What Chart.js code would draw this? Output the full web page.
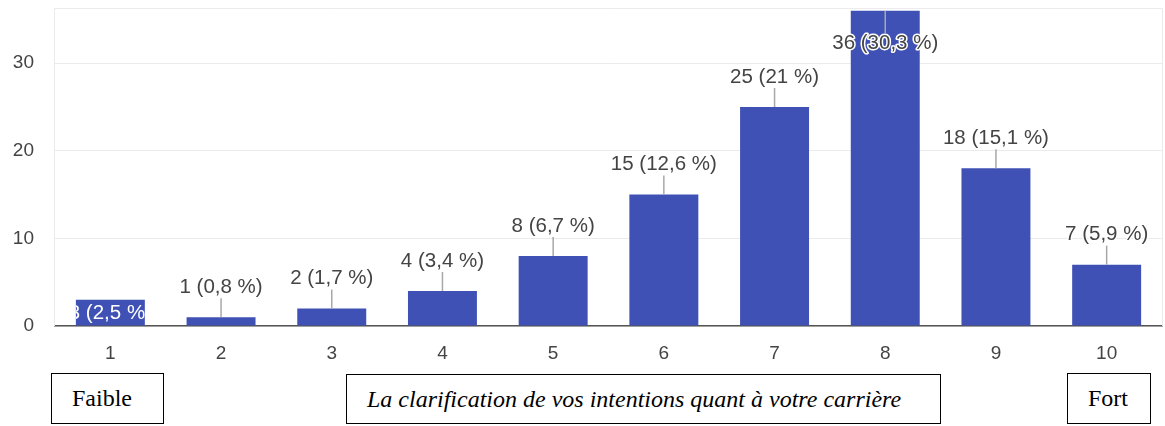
<!DOCTYPE html>
<html>
<head>
<meta charset="utf-8">
<script src="https://cdn.jsdelivr.net/npm/chart.js@4/dist/chart.umd.min.js"></script>
<style>
  html, body { margin:0; padding:0; background:#fff; }
  #wrap { position:relative; width:1165px; height:426px; overflow:hidden; }
  #cv { position:absolute; left:0; top:0; }
  .box { position:absolute; box-sizing:border-box; border:1.5px solid #000; background:#fff;
         font-family:"Liberation Serif","Times New Roman",serif; font-size:24px; color:#000;
         display:flex; align-items:center; justify-content:flex-start; padding-left:20px; white-space:nowrap; }
</style>
</head>
<body>
<div id="wrap">
  <canvas id="cv" width="1165" height="370"></canvas>
  <div class="box" style="left:51px;top:373px;width:113px;height:51px;">Faible</div>
  <div class="box" style="left:346px;top:374px;width:595px;height:50px;font-style:italic;">La clarification de vos intentions quant à votre carrière</div>
  <div class="box" style="left:1067px;top:373px;width:84px;height:51px;">Fort</div>
</div>
<script>
const categories = ['1','2','3','4','5','6','7','8','9','10'];
const counts = [3, 1, 2, 4, 8, 15, 25, 36, 18, 7];
const percents = ['2,5', '0,8', '1,7', '3,4', '6,7', '12,6', '21', '30,3', '15,1', '5,9'];
const yTicks = [0, 10, 20, 30];

const LABEL_FONT = '20.5px "Liberation Sans", Arial, sans-serif';
const TEXT_COLOR = '#444';

const framePlugin = {
  id: 'frame',
  beforeDatasetsDraw(chart) {
    const {ctx, chartArea: a} = chart;
    ctx.save();
    ctx.strokeStyle = '#ebebeb';
    ctx.lineWidth = 1;
    ctx.beginPath();
    ctx.moveTo(a.left - 0.5, a.bottom);
    ctx.lineTo(a.left - 0.5, a.top + 0.5);
    ctx.lineTo(a.right + 0.5, a.top + 0.5);
    ctx.lineTo(a.right + 0.5, a.bottom);
    ctx.stroke();
    ctx.restore();
  }
};

const labelPlugin = {
  id: 'valueLabels',
  afterDatasetsDraw(chart) {
    const {ctx, chartArea: a} = chart;
    const meta = chart.getDatasetMeta(0);
    ctx.save();
    ctx.font = LABEL_FONT;
    ctx.textAlign = 'center';
    ctx.textBaseline = 'middle';
    meta.data.forEach((bar, i) => {
      const text = counts[i] + ' (' + percents[i] + ' %)';
      const x = bar.x, top = bar.y;
      if (i === 0) {
        ctx.save();
        ctx.beginPath();
        ctx.rect(bar.x - bar.width / 2, bar.y, bar.width, bar.base - bar.y);
        ctx.clip();
        ctx.fillStyle = '#fff';
        ctx.fillText(text, x, top + 14);
        ctx.restore();
        return;
      }
      let ly = top - 30;
      const minY = a.top + 35;
      ctx.strokeStyle = '#a8a8a8';
      ctx.lineWidth = 1.5;
      ctx.beginPath();
      if (ly < minY) {
        ly = minY;
        ctx.moveTo(x, top);
        ctx.lineTo(x, ly - 10);
      } else {
        ctx.moveTo(x, ly + 11);
        ctx.lineTo(x, top);
      }
      ctx.stroke();
      ctx.lineWidth = 3;
      ctx.lineJoin = 'round';
      ctx.strokeStyle = '#fff';
      ctx.strokeText(text, x, ly);
      ctx.fillStyle = TEXT_COLOR;
      ctx.fillText(text, x, ly);
    });
    ctx.restore();
  }
};

new Chart(document.getElementById('cv'), {
  type: 'bar',
  data: {
    labels: categories,
    datasets: [{
      data: counts,
      backgroundColor: '#3f51b5',
      borderWidth: 0,
      categoryPercentage: 1,
      barPercentage: 0.623
    }]
  },
  options: {
    responsive: false,
    animation: false,
    events: [],
    layout: { padding: { left: 0, right: 3, top: 8, bottom: 0 } },
    plugins: { legend: { display: false }, tooltip: { enabled: false } },
    scales: {
      x: {
        grid: { display: false, drawTicks: false },
        border: { display: true, color: '#555', width: 1.5 },
        ticks: { color: TEXT_COLOR, font: { family: '"Liberation Sans", Arial, sans-serif', size: 19 }, padding: 16, maxRotation: 0 },
        afterFit(s) { s.height = 44; s.paddingLeft = 0; s.paddingRight = 0; }
      },
      y: {
        min: 0,
        max: 36.3,
        grid: { color: '#ebebeb', lineWidth: 1, drawTicks: false },
        border: { display: false },
        ticks: { color: TEXT_COLOR, font: { family: '"Liberation Sans", Arial, sans-serif', size: 19 }, padding: 21 },
        afterBuildTicks(s) { s.ticks = yTicks.map(v => ({ value: v })); },
        afterFit(s) { s.width = 55; s.paddingTop = 0; s.paddingBottom = 0; }
      }
    }
  },
  plugins: [framePlugin, labelPlugin]
});
</script>
</body>
</html>
